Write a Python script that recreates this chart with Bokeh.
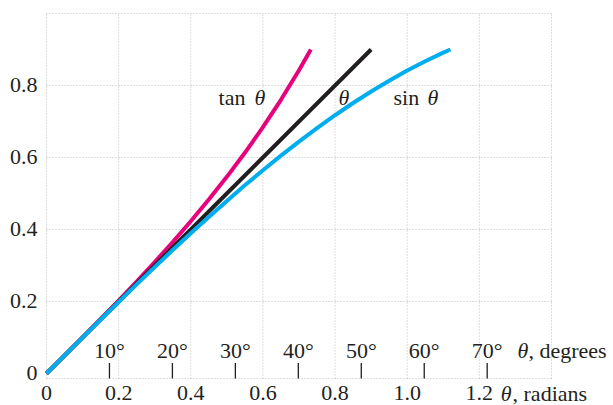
from bokeh.plotting import figure
from bokeh.models import Range1d
from bokeh.core.properties import value
from bokeh.embed import file_html
from bokeh.resources import INLINE
import math

theta_tan = [0.0, 0.05, 0.10, 0.15, 0.20, 0.25, 0.30, 0.35, 0.40, 0.45, 0.50, 0.55, 0.60, 0.65, 0.70, 0.7328]
tan_vals = [0.0, 0.0500, 0.1003, 0.1511, 0.2027, 0.2553, 0.3093, 0.3650, 0.4228, 0.4831, 0.5463, 0.6131, 0.6841, 0.7602, 0.8423, 0.9000]

theta_lin = [0.0, 0.9]
lin_vals = [0.0, 0.9]

theta_sin = [0.0, 0.05, 0.10, 0.15, 0.20, 0.25, 0.30, 0.35, 0.40, 0.45, 0.50, 0.55, 0.60, 0.65, 0.70, 0.75,
             0.80, 0.85, 0.90, 0.95, 1.00, 1.05, 1.10, 1.1198]
sin_vals = [0.0, 0.0500, 0.0998, 0.1494, 0.1987, 0.2474, 0.2955, 0.3429, 0.3894, 0.4350, 0.4794, 0.5227, 0.5646,
            0.6052, 0.6442, 0.6816, 0.7174, 0.7513, 0.7833, 0.8134, 0.8415, 0.8674, 0.8912, 0.9000]

x_ticks = [0, 0.2, 0.4, 0.6, 0.8, 1.0, 1.2]
x_tick_labels = ["0", "0.2", "0.4", "0.6", "0.8", "1.0", "1.2"]
y_ticks = [0, 0.2, 0.4, 0.6, 0.8]
y_tick_labels = ["0", "0.2", "0.4", "0.6", "0.8"]
degrees = [10, 20, 30, 40, 50, 60, 70]
degree_labels = ["10°", "20°", "30°", "40°", "50°", "60°", "70°"]

# plot box (data limits of the dotted frame)
X_MIN, X_MAX = 0.0, 1.4
Y_MIN, Y_MAX = -0.014, 1.0

# ---- style ----
FONT = "Liberation Serif"
FS = "22px"
TXT = "#231f20"
MAGENTA = "#e8007d"
BLACK = "#231f20"
CYAN = "#00aeef"
GRID = "#bdbdbd"

p = figure(width=613, height=405,
           x_range=Range1d(-0.1275, 1.5719), y_range=Range1d(-0.0889, 1.0361),
           output_backend="svg", toolbar_location=None,
           min_border=0, min_border_left=0, min_border_right=0, min_border_top=0, min_border_bottom=0,
           background_fill_color="white", border_fill_color="white")
p.outline_line_color = None
p.axis.visible = False
p.grid.visible = False

# dotted grid + frame
gx = x_ticks + [X_MAX]
gy = [Y_MIN] + y_ticks[1:] + [Y_MAX]
p.segment(x0=gx, y0=[Y_MIN] * len(gx), x1=gx, y1=[Y_MAX] * len(gx),
          line_color=GRID, line_width=1, line_dash="1 2")
p.segment(x0=[X_MIN] * len(gy), y0=gy, x1=[X_MAX] * len(gy), y1=gy,
          line_color=GRID, line_width=1, line_dash="1 2")

# curves
p.line(theta_tan, tan_vals, line_color=MAGENTA, line_width=4, line_cap="butt")
p.line(theta_lin, lin_vals, line_color=BLACK, line_width=4, line_cap="butt")
p.line(theta_sin, sin_vals, line_color=CYAN, line_width=4, line_cap="butt")

def txt(x, y, t, italic=False, align="left", baseline="alphabetic"):
    if not isinstance(x, list):
        x, y, t = [x], [y], [t]
    p.text(x=x, y=y, text=t, text_font=value(FONT), text_font_size=value(FS), text_color=TXT,
           text_font_style="italic" if italic else "normal",
           text_align=align, text_baseline=baseline)

ROW_RAD = -0.0544
ROW_DEG = 0.065
ROW_CURVE = 0.768

# tick labels
txt([-0.025] * len(y_ticks), y_ticks, y_tick_labels, align="right", baseline="middle")
txt(x_ticks, [ROW_RAD] * len(x_ticks), x_tick_labels, align="center")

# degree scale inside plot
deg_rad = [d * math.pi / 180 for d in degrees]
p.segment(x0=deg_rad, y0=[Y_MIN] * len(deg_rad), x1=deg_rad, y1=[0.029] * len(deg_rad),
          line_color=TXT, line_width=1.3)
txt(deg_rad, [ROW_DEG] * len(deg_rad), degree_labels, align="center")

# curve labels
txt(0.477, ROW_CURVE, "tan")
txt(0.577, ROW_CURVE, "θ", True)
txt(0.8095, ROW_CURVE, "θ", True)
txt(0.962, ROW_CURVE, "sin")
txt(1.056, ROW_CURVE, "θ", True)

# axis names
txt(1.306, ROW_DEG, "θ", True)
txt(1.336, ROW_DEG, ", degrees")
txt(1.259, ROW_RAD, "θ", True)
txt(1.292, ROW_RAD, ", radians")

open("out.html", "w").write(file_html(p, INLINE))
